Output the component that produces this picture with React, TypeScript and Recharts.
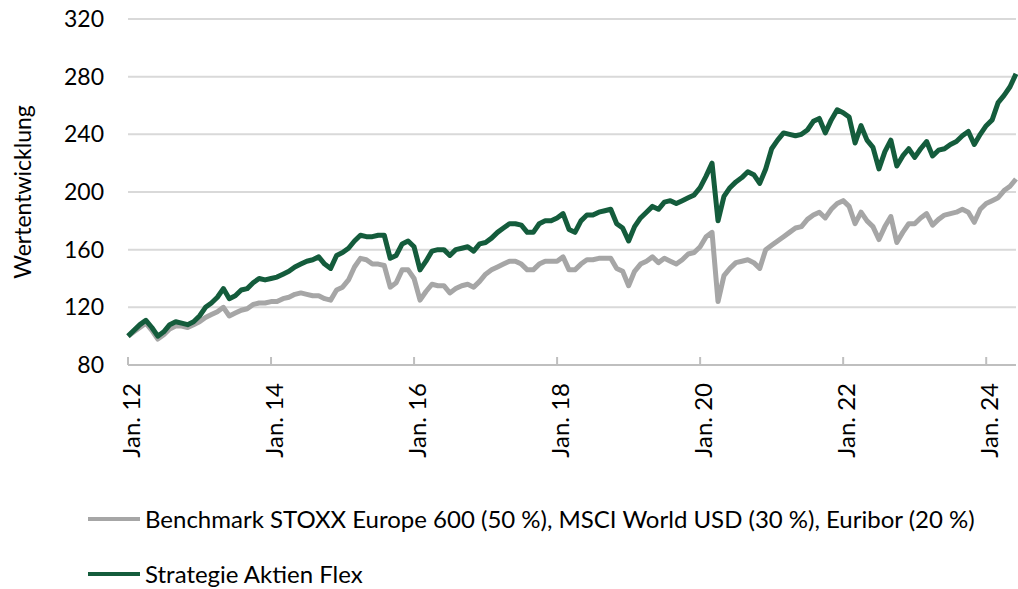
import { LineChart, Line, XAxis, YAxis, CartesianGrid, Legend } from "recharts";

// monthly values, Jan. 2012 – Jun. 2024, indexed to 100
const strategy = [
  100, 104, 108, 111, 106, 100, 103, 108, 110, 109, 108, 110, // 2012
  114, 120, 123, 127, 133, 126, 128, 132, 133, 137, 140, 139, // 2013
  140, 141, 143, 145, 148, 150, 152, 153, 155, 150, 147, 156, // 2014
  158, 161, 166, 170, 169, 169, 170, 170, 154, 156, 164, 166, // 2015
  162, 146, 152, 159, 160, 160, 156, 160, 161, 162, 159, 164, // 2016
  165, 168, 172, 175, 178, 178, 177, 172, 172, 178, 180, 180, // 2017
  182, 185, 174, 172, 180, 184, 184, 186, 187, 188, 178, 175, // 2018
  166, 176, 182, 186, 190, 188, 193, 194, 192, 194, 196, 198, // 2019
  203, 211, 220, 180, 197, 203, 207, 210, 214, 212, 206, 216, // 2020
  230, 236, 241, 240, 239, 240, 243, 249, 251, 241, 250, 257, // 2021
  255, 252, 234, 246, 236, 231, 216, 228, 236, 218, 225, 230, // 2022
  224, 230, 235, 225, 229, 230, 233, 235, 239, 242, 233, 240, // 2023
  246, 250, 262, 267, 273, 282, // 2024
];

const benchmark = [
  100, 103, 106, 109, 104, 98, 101, 105, 107, 107, 106, 108, // 2012
  110, 113, 115, 117, 120, 114, 116, 118, 119, 122, 123, 123, // 2013
  124, 124, 126, 127, 129, 130, 129, 128, 128, 126, 125, 132, // 2014
  134, 139, 148, 154, 153, 150, 150, 149, 134, 137, 146, 146, // 2015
  140, 125, 131, 136, 135, 135, 130, 133, 135, 136, 134, 138, // 2016
  143, 146, 148, 150, 152, 152, 150, 146, 146, 150, 152, 152, // 2017
  152, 155, 146, 146, 150, 153, 153, 154, 154, 154, 147, 145, // 2018
  135, 145, 150, 152, 155, 151, 154, 152, 150, 153, 157, 158, // 2019
  162, 169, 172, 124, 142, 147, 151, 152, 153, 151, 147, 160, // 2020
  163, 166, 169, 172, 175, 176, 181, 184, 186, 182, 188, 192, // 2021
  194, 190, 178, 186, 180, 176, 167, 176, 183, 165, 172, 178, // 2022
  178, 182, 185, 177, 181, 184, 185, 186, 188, 186, 179, 188, // 2023
  192, 194, 196, 201, 204, 209, // 2024
];

const startYear = 2012;
const months = strategy.map((_, i) => {
  const y = startYear + Math.floor(i / 12);
  const m = (i % 12) + 1;
  return `${y}-${String(m).padStart(2, "0")}`;
});

const xTicks = ["2012-01", "2014-01", "2016-01", "2018-01", "2020-01", "2022-01", "2024-01"];
const yTicks = [80, 120, 160, 200, 240, 280, 320];

const benchmarkName = "Benchmark STOXX Europe 600 (50\u202F%), MSCI World USD (30\u202F%), Euribor (20\u202F%)";
const strategyName = "Strategie Aktien Flex";

const GREEN = "#145C3C";
const GREY = "#A6A6A6";
const FONT = "Lato, 'Noto Sans', sans-serif";

const data = months.map((month, i) => ({
  month,
  benchmark: benchmark[i],
  strategy: strategy[i],
}));

const fmtMonth = (v: string) => `Jan. ${v.slice(2, 4)}`;

function MonthTick({ x, y, payload }: any) {
  return (
    <g>
      <line x1={x} x2={x} y1={y - 8} y2={y} stroke="#BFBFBF" strokeWidth={2} />
      <text
        transform={`translate(${x + 2},${y + 18}) rotate(-90)`}
        textAnchor="end"
        dominantBaseline="central"
        fontSize={24}
        fontFamily={FONT}
        fill="#000"
      >
        {fmtMonth(payload.value)}
      </text>
    </g>
  );
}

function LegendBox() {
  const rows = [
    { name: benchmarkName, color: GREY, top: 44 },
    { name: strategyName, color: GREEN, top: 99 },
  ];
  return (
    <div style={{ position: "relative", width: 1018, height: 114, fontFamily: FONT }}>
      {rows.map((r) => (
        <div key={r.name}>
          <div
            style={{
              position: "absolute",
              left: 88,
              top: r.top - 2,
              width: 52,
              height: 4,
              backgroundColor: r.color,
            }}
          />
          <div
            style={{
              position: "absolute",
              left: 145,
              top: r.top - 15,
              height: 30,
              lineHeight: "30px",
              fontSize: 24,
              color: "#000",
              whiteSpace: "nowrap",
            }}
          >
            {r.name}
          </div>
        </div>
      ))}
    </div>
  );
}

export default function App() {
  return (
    <div style={{ width: 1018, height: 589, background: "#fff" }}>
      <style>{"body{margin:0}"}</style>
      <LineChart
        width={1018}
        height={589}
        data={data}
        margin={{ top: 19, right: 2, bottom: 0, left: 0 }}
      >
        <CartesianGrid vertical={false} stroke="#D9D9D9" strokeWidth={2} />
        <XAxis
          dataKey="month"
          ticks={xTicks}
          interval={0}
          height={110}
          tickSize={0}
          tickMargin={0}
          tickLine={false}
          axisLine={{ stroke: "#BFBFBF", strokeWidth: 2 }}
          tick={<MonthTick />}
        />
        <YAxis
          domain={[80, 320]}
          ticks={yTicks}
          interval={0}
          width={128}
          axisLine={false}
          tickLine={false}
          tickSize={0}
          tickMargin={24}
          tick={{ fontSize: 23, fontFamily: FONT, fill: "#000" }}
          label={() => (
            <text
              transform="translate(22,192) rotate(-90)"
              textAnchor="middle"
              dominantBaseline="central"
              fontSize={23}
              fontFamily={FONT}
              fill="#000"
            >
              Wertentwicklung
            </text>
          )}
        />
        <Legend
          verticalAlign="bottom"
          content={() => <LegendBox />}
          wrapperStyle={{ left: 0, width: 1018 }}
        />
        <Line
          type="linear"
          dataKey="benchmark"
          name={benchmarkName}
          stroke={GREY}
          strokeWidth={5}
          strokeLinejoin="round"
          dot={false}
          isAnimationActive={false}
        />
        <Line
          type="linear"
          dataKey="strategy"
          name={strategyName}
          stroke={GREEN}
          strokeWidth={5}
          strokeLinejoin="round"
          dot={false}
          isAnimationActive={false}
        />
      </LineChart>
    </div>
  );
}
